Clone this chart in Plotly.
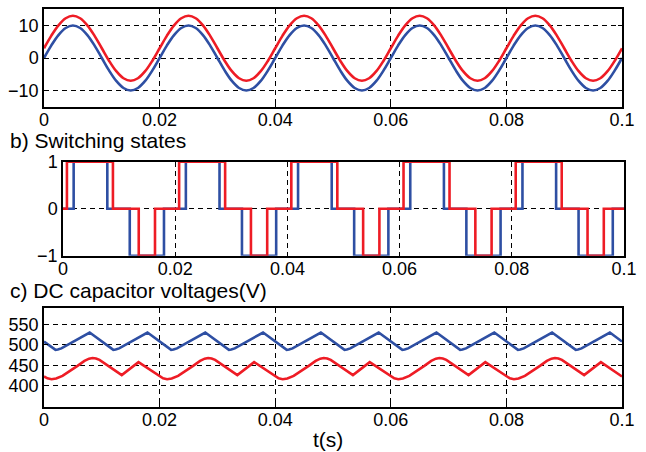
import numpy as np
import plotly.graph_objects as go

# ---------------- data ----------------
# a) sinusoidal signals, sampled every 1.25 ms over 0..0.1 s
t_a = np.linspace(0, 0.1, 81)
sine_blue = [
    0, 3.83, 7.07, 9.24, 10, 9.24, 7.07, 3.83, 0, -3.83, -7.07, -9.24, -10, -9.24, -7.07, -3.83,
    0, 3.83, 7.07, 9.24, 10, 9.24, 7.07, 3.83, 0, -3.83, -7.07, -9.24, -10, -9.24, -7.07, -3.83,
    0, 3.83, 7.07, 9.24, 10, 9.24, 7.07, 3.83, 0, -3.83, -7.07, -9.24, -10, -9.24, -7.07, -3.83,
    0, 3.83, 7.07, 9.24, 10, 9.24, 7.07, 3.83, 0, -3.83, -7.07, -9.24, -10, -9.24, -7.07, -3.83,
    0, 3.83, 7.07, 9.24, 10, 9.24, 7.07, 3.83, 0, -3.83, -7.07, -9.24, -10, -9.24, -7.07, -3.83,
    0,
]
sine_red = [
    3, 6.83, 10.07, 12.24, 13, 12.24, 10.07, 6.83, 3, -0.83, -4.07, -6.24, -7, -6.24, -4.07, -0.83,
    3, 6.83, 10.07, 12.24, 13, 12.24, 10.07, 6.83, 3, -0.83, -4.07, -6.24, -7, -6.24, -4.07, -0.83,
    3, 6.83, 10.07, 12.24, 13, 12.24, 10.07, 6.83, 3, -0.83, -4.07, -6.24, -7, -6.24, -4.07, -0.83,
    3, 6.83, 10.07, 12.24, 13, 12.24, 10.07, 6.83, 3, -0.83, -4.07, -6.24, -7, -6.24, -4.07, -0.83,
    3, 6.83, 10.07, 12.24, 13, 12.24, 10.07, 6.83, 3, -0.83, -4.07, -6.24, -7, -6.24, -4.07, -0.83,
    3,
]

# b) switching states (step transitions)
t_sw_blue = [0, 0.0019, 0.0079, 0.0119, 0.0180, 0.0219, 0.0279, 0.0319, 0.0380,
             0.0419, 0.0479, 0.0519, 0.0580, 0.0619, 0.0679, 0.0719, 0.0780,
             0.0819, 0.0879, 0.0919, 0.0980, 0.1]
sw_blue = [0, 1, 0, -1, 0, 1, 0, -1, 0, 1, 0, -1, 0, 1, 0, -1, 0, 1, 0, -1, 0, 0]
t_sw_red = [0, 0.0007, 0.0089, 0.0135, 0.0164, 0.0207, 0.0289, 0.0335, 0.0364,
            0.0407, 0.0489, 0.0535, 0.0564, 0.0607, 0.0689, 0.0735, 0.0764,
            0.0807, 0.0889, 0.0935, 0.0964, 0.1]
sw_red = [0, 1, 0, -1, 0, 1, 0, -1, 0, 1, 0, -1, 0, 1, 0, -1, 0, 1, 0, -1, 0, 0]

# c) DC capacitor voltages
t_vc_blue = [
    0.0000, 0.0012, 0.0017, 0.0020, 0.0024, 0.0030, 0.0079,
    0.0100, 0.0112, 0.0117, 0.0120, 0.0124, 0.0130, 0.0179,
    0.0200, 0.0212, 0.0217, 0.0220, 0.0224, 0.0230, 0.0279,
    0.0300, 0.0312, 0.0317, 0.0320, 0.0324, 0.0330, 0.0379,
    0.0400, 0.0412, 0.0417, 0.0420, 0.0424, 0.0430, 0.0479,
    0.0500, 0.0512, 0.0517, 0.0520, 0.0524, 0.0530, 0.0579,
    0.0600, 0.0612, 0.0617, 0.0620, 0.0624, 0.0630, 0.0679,
    0.0700, 0.0712, 0.0717, 0.0720, 0.0724, 0.0730, 0.0779,
    0.0800, 0.0812, 0.0817, 0.0820, 0.0824, 0.0830, 0.0879,
    0.0900, 0.0912, 0.0917, 0.0920, 0.0924, 0.0930, 0.0979,
    0.1000,
]
vc_blue = [
    508, 496, 490.5, 488, 488.5, 491.5, 530,
    508, 496, 490.5, 488, 488.5, 491.5, 530,
    508, 496, 490.5, 488, 488.5, 491.5, 530,
    508, 496, 490.5, 488, 488.5, 491.5, 530,
    508, 496, 490.5, 488, 488.5, 491.5, 530,
    508, 496, 490.5, 488, 488.5, 491.5, 530,
    508, 496, 490.5, 488, 488.5, 491.5, 530,
    508, 496, 490.5, 488, 488.5, 491.5, 530,
    508, 496, 490.5, 488, 488.5, 491.5, 530,
    508, 496, 490.5, 488, 488.5, 491.5, 530,
    508,
]
t_vc_red = [
    0.0000, 0.0006, 0.0013, 0.0021, 0.0032, 0.0045, 0.0058, 0.0070, 0.0078, 0.0084, 0.0090, 0.0096, 0.01345, 0.01635,
    0.0200, 0.0206, 0.0213, 0.0221, 0.0232, 0.0245, 0.0258, 0.0270, 0.0278, 0.0284, 0.0290, 0.0296, 0.03345, 0.03635,
    0.0400, 0.0406, 0.0413, 0.0421, 0.0432, 0.0445, 0.0458, 0.0470, 0.0478, 0.0484, 0.0490, 0.0496, 0.05345, 0.05635,
    0.0600, 0.0606, 0.0613, 0.0621, 0.0632, 0.0645, 0.0658, 0.0670, 0.0678, 0.0684, 0.0690, 0.0696, 0.07345, 0.07635,
    0.0800, 0.0806, 0.0813, 0.0821, 0.0832, 0.0845, 0.0858, 0.0870, 0.0878, 0.0884, 0.0890, 0.0896, 0.09345, 0.09635,
    0.1000,
]
vc_red = [
    423, 418.5, 416.5, 418, 424.5, 436, 449, 461, 466.5, 468, 467, 463.5, 426.5, 458,
    423, 418.5, 416.5, 418, 424.5, 436, 449, 461, 466.5, 468, 467, 463.5, 426.5, 458,
    423, 418.5, 416.5, 418, 424.5, 436, 449, 461, 466.5, 468, 467, 463.5, 426.5, 458,
    423, 418.5, 416.5, 418, 424.5, 436, 449, 461, 466.5, 468, 467, 463.5, 426.5, 458,
    423, 418.5, 416.5, 418, 424.5, 436, 449, 461, 466.5, 468, 467, 463.5, 426.5, 458,
    423,
]

x_tickvals = [0, 0.02, 0.04, 0.06, 0.08, 0.1]
x_ticktext = ["0", "0.02", "0.04", "0.06", "0.08", "0.1"]
ya_ticks = [-10, 0, 10]
yb_ticks = [-1, 0, 1]
yc_ticks = [400, 450, 500, 550]

# ---------------- style ----------------
W, H = 646, 452
FONT = "Liberation Sans, Arial, Helvetica, sans-serif"
BLUE = "#2E4FA3"
RED = "#EE1C25"
LW = 2.6


def fx(px):
    return px / W


def fy(py):
    return 1 - py / H


def px_x(a, b):
    return [fx(a), fx(b)]


def px_y(top, bottom):
    return [fy(bottom), fy(top)]


def axis(**kw):
    d = dict(
        showline=True, linecolor="black", linewidth=1.5, mirror="ticks",
        ticks="inside", ticklen=4, tickcolor="black", tickwidth=1,
        showgrid=True, gridcolor="black", gridwidth=1, griddash="5px,4px",
        zeroline=False, tickfont=dict(size=18, family=FONT, color="black"),
        fixedrange=True, automargin=False,
    )
    d.update(kw)
    return d


fig = go.Figure()

fig.add_trace(go.Scatter(x=t_a, y=sine_blue, mode="lines",
                         line=dict(color=BLUE, width=LW, shape="spline"),
                         xaxis="x", yaxis="y"))
fig.add_trace(go.Scatter(x=t_a, y=sine_red, mode="lines",
                         line=dict(color=RED, width=LW, shape="spline"),
                         xaxis="x", yaxis="y"))
fig.add_trace(go.Scatter(x=t_sw_blue, y=sw_blue, mode="lines",
                         line=dict(color=BLUE, width=LW, shape="hv"),
                         xaxis="x2", yaxis="y2", cliponaxis=False))
fig.add_trace(go.Scatter(x=t_sw_red, y=sw_red, mode="lines",
                         line=dict(color=RED, width=LW, shape="hv"),
                         xaxis="x2", yaxis="y2", cliponaxis=False))
fig.add_trace(go.Scatter(x=t_vc_blue, y=vc_blue, mode="lines",
                         line=dict(color=BLUE, width=LW),
                         xaxis="x3", yaxis="y3"))
fig.add_trace(go.Scatter(x=t_vc_red, y=vc_red, mode="lines",
                         line=dict(color=RED, width=LW),
                         xaxis="x3", yaxis="y3"))

XSO = -4  # pull x tick labels closer to the axes

fig.update_layout(
    template="none",
    width=W, height=H,
    autosize=False,
    margin=dict(l=0, r=0, t=0, b=0, pad=0, autoexpand=False),
    paper_bgcolor="white", plot_bgcolor="white",
    showlegend=False,
    font=dict(family=FONT, color="black"),
    xaxis=axis(domain=px_x(44, 622), range=[0, 0.1], tickvals=x_tickvals,
               ticktext=x_ticktext, anchor="y", ticklabelstandoff=XSO),
    yaxis=axis(domain=px_y(9.3, 106.7), range=[-15, 15], tickvals=ya_ticks,
               anchor="x"),
    xaxis2=axis(domain=px_x(63, 624), range=[0, 0.1], tickvals=x_tickvals,
                ticktext=x_ticktext, anchor="y2", ticklabelstandoff=XSO),
    yaxis2=axis(domain=px_y(161.7, 255.7), range=[-1, 1], tickvals=yb_ticks,
                anchor="x2", layer="below traces"),
    xaxis3=axis(domain=px_x(44, 622), range=[0, 0.1], tickvals=x_tickvals,
                ticktext=x_ticktext, anchor="y3", ticklabelstandoff=XSO),
    yaxis3=axis(domain=px_y(308.3, 406.5), range=[350, 589], tickvals=yc_ticks,
                anchor="x3"),
    annotations=[
        dict(text="b) Switching states", x=fx(8), y=fy(140), xref="paper", yref="paper",
             xanchor="left", yanchor="middle", showarrow=False,
             font=dict(size=21, family=FONT, color="black")),
        dict(text="c) DC capacitor voltages(V)", x=fx(8), y=fy(290.5), xref="paper",
             yref="paper", xanchor="left", yanchor="middle", showarrow=False,
             font=dict(size=21, family=FONT, color="black")),
        dict(text="t(s)", x=fx(328), y=fy(439), xref="paper", yref="paper",
             xanchor="center", yanchor="middle", showarrow=False,
             font=dict(size=21, family=FONT, color="black")),
    ],
)

fig.write_html(
    "out.html", config={"displayModeBar": False},
    post_script=(
        "document.documentElement.style.margin='0';"
        "document.body.style.margin='0';"
        "document.body.style.overflow='hidden';"
        "document.documentElement.style.overflow='hidden';"
    ),
)
